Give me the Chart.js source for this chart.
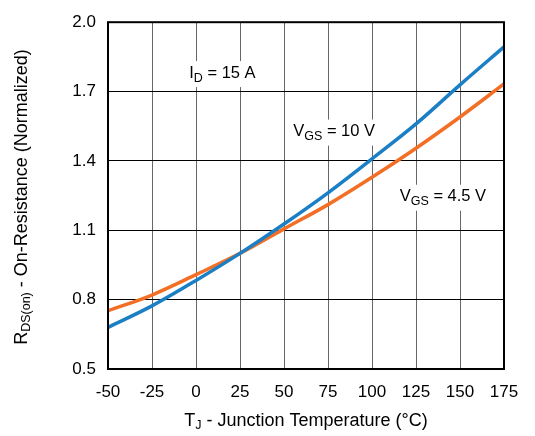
<!DOCTYPE html>
<html>
<head>
<meta charset="utf-8">
<script src="https://cdn.jsdelivr.net/npm/chart.js@4"></script>
<style>
  body { margin: 0; background: #fff; }
  #wrap { width: 535px; height: 436px; }
</style>
</head>
<body>
<div id="wrap"><canvas id="myChart"></canvas></div>
<script>
// junction temperature (°C)
var temps = [-50, -25, 0, 25, 50, 75, 100, 125, 150, 175];
// normalized RDS(on)
var rdsVgs10 = [0.68, 0.773, 0.883, 1.0, 1.127, 1.262, 1.409, 1.56, 1.729, 1.893];
var rdsVgs45 = [0.752, 0.82, 0.908, 1.0, 1.106, 1.211, 1.329, 1.455, 1.59, 1.733];
var yTicks = [0.5, 0.8, 1.1, 1.4, 1.7, 2.0];
var xTicks = [-50, -25, 0, 25, 50, 75, 100, 125, 150, 175];

var FONT = '"Liberation Sans", Arial, sans-serif';

// text parts: [text, isSubscript]
var notes = [
    { parts: [['I', 0], ['D', 1], [' = 15 A', 0]], x: 15, y: 1.78 },
    { parts: [['V', 0], ['GS', 1], [' = 10 V', 0]], x: 78.5, y: 1.527 },
    { parts: [['V', 0], ['GS', 1], [' = 4.5 V', 0]], x: 140.3, y: 1.245 }
];

function partsWidth(ctx, parts, size, subSize) {
    var w = 0;
    parts.forEach(function (p) {
        ctx.font = (p[1] ? subSize : size) + 'px ' + FONT;
        w += ctx.measureText(p[0]).width;
    });
    return w;
}

// draws text centred on (cx, cy) with subscripts
function drawParts(ctx, parts, cx, cy, size, subSize) {
    var w = partsWidth(ctx, parts, size, subSize);
    var x = cx - w / 2;
    ctx.textAlign = 'left';
    ctx.textBaseline = 'middle';
    ctx.fillStyle = '#000';
    parts.forEach(function (p) {
        ctx.font = (p[1] ? subSize : size) + 'px ' + FONT;
        ctx.fillText(p[0], x, p[1] ? cy + 5 : cy);
        x += ctx.measureText(p[0]).width;
    });
    return w;
}

var decorations = {
    id: 'decorations',
    beforeDatasetsDraw: function (chart) {
        var ctx = chart.ctx;
        var xs = chart.scales.x, ys = chart.scales.y;
        ctx.save();
        notes.forEach(function (n) {
            var cx = xs.getPixelForValue(n.x);
            var cy = ys.getPixelForValue(n.y);
            var w = partsWidth(ctx, n.parts, 16.5, 12.5);
            ctx.fillStyle = '#fff';
            ctx.fillRect(cx - w / 2 - 3, cy - 12, w + 6, 26);
            drawParts(ctx, n.parts, cx, cy, 16.5, 12.5);
        });
        ctx.restore();
    },
    afterDatasetsDraw: function (chart) {
        var ctx = chart.ctx, a = chart.chartArea;
        ctx.save();
        ctx.strokeStyle = '#000';
        ctx.lineWidth = 2;
        ctx.strokeRect(a.left, a.top, a.right - a.left, a.bottom - a.top);
        ctx.restore();
    },
    afterDraw: function (chart) {
        var ctx = chart.ctx;
        ctx.save();
        drawParts(ctx, [['T', 0], ['J', 1], [' - Junction Temperature (°C)', 0]], 306, 421, 18, 12.5);
        ctx.translate(22, 197);
        ctx.rotate(-Math.PI / 2);
        drawParts(ctx, [['R', 0], ['DS(on)', 1], [' - On-Resistance (Normalized)', 0]], 0, 0, 18, 12.5);
        ctx.restore();
    }
};

function points(ys) {
    return temps.map(function (t, i) { return { x: t, y: ys[i] }; });
}

var ctx = document.getElementById('myChart').getContext('2d');
var chart = new Chart(ctx, {
    type: 'line',
    data: {
        datasets: [{
            label: 'VGS = 10 V',
            data: points(rdsVgs10),
            borderColor: '#1b7fc5',
            borderWidth: 3.5,
            pointRadius: 0,
            cubicInterpolationMode: 'monotone',
            fill: false
        }, {
            label: 'VGS = 4.5 V',
            data: points(rdsVgs45),
            borderColor: '#f26f25',
            borderWidth: 3.5,
            pointRadius: 0,
            cubicInterpolationMode: 'monotone',
            fill: false
        }]
    },
    options: {
        responsive: true,
        maintainAspectRatio: false,
        animation: false,
        events: [],
        layout: {
            padding: { left: 0, right: 31, top: 13, bottom: 0 }
        },
        plugins: {
            legend: { display: false },
            tooltip: { enabled: false }
        },
        scales: {
            x: {
                type: 'linear',
                min: -50,
                max: 175,
                afterBuildTicks: function (scale) {
                    scale.ticks = xTicks.map(function (v) { return { value: v }; });
                },
                afterFit: function (scale) { scale.height = 67; },
                grid: { color: '#666', lineWidth: 1, drawTicks: false },
                border: { display: false },
                ticks: {
                    padding: 13,
                    color: '#000',
                    font: { family: FONT, size: 17 },
                    maxRotation: 0,
                    callback: function (v) { return v; }
                }
            },
            y: {
                min: 0.5,
                max: 2.0,
                afterBuildTicks: function (scale) {
                    scale.ticks = yTicks.map(function (v) { return { value: v }; });
                },
                afterFit: function (scale) { scale.width = 108; },
                grid: { color: '#000', lineWidth: 1, drawTicks: false },
                border: { display: false },
                ticks: {
                    padding: 12,
                    color: '#000',
                    font: { family: FONT, size: 17 },
                    callback: function (v) { return v.toFixed(1); }
                }
            }
        }
    },
    plugins: [decorations]
});
</script>
</body>
</html>
